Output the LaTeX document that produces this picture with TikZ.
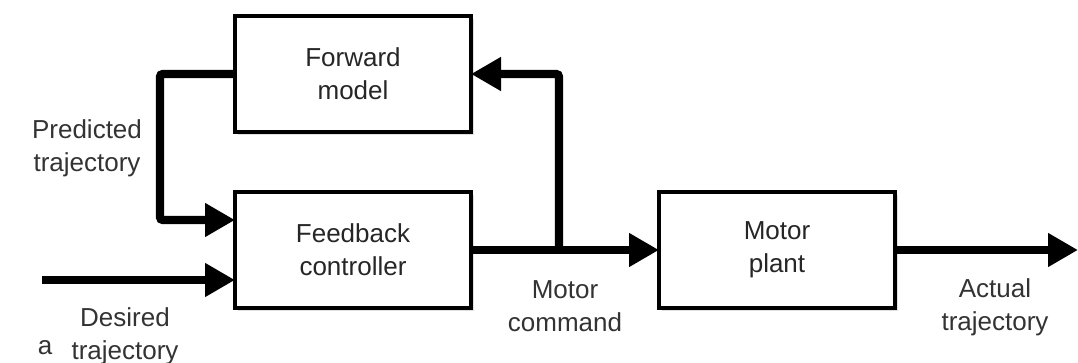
\documentclass[tikz,border=0pt]{standalone}
\usepackage{fontspec}
\setmainfont{Liberation Sans}
\usepackage{tikz}
\usetikzlibrary{arrows.meta, positioning, calc, shadows}

\tikzset{
  blk/.style={draw, line width=1.8pt, fill=white, align=center, outer sep=0pt,
    minimum width=118pt, minimum height=58pt, text=black!85,
    drop shadow={shadow xshift=1.5pt, shadow yshift=-1.5pt, opacity=0.25}},
  flow/.style={line width=4.2pt, rounded corners=1.5pt, -{Triangle[length=15pt,width=16pt]}},
  lbl/.style={align=center, text=black!80}
}

\begin{document}
\begin{tikzpicture}[x=0.5pt, y=-0.5pt, font=\fontsize{13}{16.5}\selectfont]
\useasboundingbox (0,0) rectangle (1078,363);
\node[blk] (ctrl) at (353,250) {Feedback\\controller};
\node[blk, above=30pt of ctrl] (fwd) {Forward\\model};
\node[blk, right=94pt of ctrl] (plant) {Motor\\plant};
\coordinate (din) at (42,280);
\coordinate (ptop) at (160,74);
\coordinate (pbot) at (160,220);
\coordinate (split) at (559,250);
\coordinate (out) at (1078,250);
\draw[flow] (fwd.west) -- (ptop) -- (pbot) -- (ctrl.west |- pbot);
\draw[flow] (din) -- (ctrl.west |- din);
\draw[flow] (ctrl.east) -- (plant.west);
\draw[flow] (split) |- (fwd.east);
\draw[flow] (plant.east) -- (out);
\node[lbl] (pred) at (87,148) {Predicted\\trajectory};
\node[lbl] (des) at (125,336) {Desired\\trajectory};
\node[lbl] (fig) at (45,348) {a};
\node[lbl] (cmd) at (565,306) {Motor\\command};
\node[lbl] (act) at (995,307) {Actual\\trajectory};
\end{tikzpicture}
\end{document}
